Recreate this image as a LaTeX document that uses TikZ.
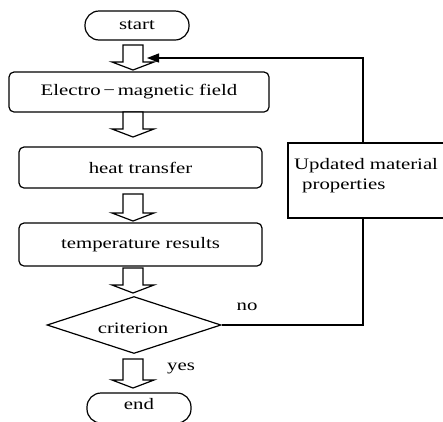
\documentclass[tikz,border=0pt]{standalone}
\usepackage{fontspec}
\setmainfont[FakeStretch=1.3]{Liberation Serif}
\newfontfamily\widefont[FakeStretch=1.3]{Liberation Serif}
\usetikzlibrary{shapes.geometric,arrows.meta,calc}
\begin{document}
\begin{tikzpicture}[x=1pt,y=-1pt,
  every node/.style={font=\fontsize{16}{20}\selectfont},
  term/.style={draw,line width=1.2pt,rounded corners=14pt,inner sep=0pt},
  procbox/.style={draw,line width=1.2pt,rounded corners=5pt,inner sep=0pt},
  decbox/.style={draw,line width=1.2pt,diamond,inner sep=0pt,minimum width=174pt,minimum height=57pt},
  fat/.style={draw,line width=1.2pt,fill=white},
  lbl/.style={inner sep=0pt}]
\useasboundingbox (0,0) rectangle (443,421);
\newcommand{\fatarrow}[2]{%
  \path let \p1=(#1), \p2=(#2) in
    [fat] (\x1-10pt,\y1) -- (\x1+10pt,\y1) -- (\x1+10pt,\y2+8pt) -- (\x1+21pt,\y2+8pt)
    -- (\x1,\y2) -- (\x1-21pt,\y2+8pt) -- (\x1-10pt,\y2+8pt) -- cycle;}
% nodes
\node[term,minimum width=104pt,minimum height=29pt] (start) at (137,25.5) {start};
\node[procbox,minimum width=260pt,minimum height=40pt] (em) at (139,92) {Electro\,−\,magnetic field};
\node[procbox,minimum width=243pt,minimum height=41pt] (heat) at (140.5,167.5) {heat transfer};
\node[procbox,minimum width=243pt,minimum height=43pt] (temp) at (140.5,244.5) {temperature results};
\node[decbox] (crit) at (134,325) {};
\node[lbl] (crittext) at (133,328) {criterion};
\node[term,minimum width=104pt,minimum height=30pt] (end) at (139,408) {};
\node[lbl] (endtext) at (139,404) {end};
\node[draw,line width=1.2pt,minimum width=160pt,minimum height=75pt,inner sep=0pt] (upd) at (368,180.5) {};
\node[lbl,align=left,anchor=north west,font=\fontsize{16}{20}\widefont] (updtext) at (294,158) {Updated material\\\hspace*{8pt}properties};
\node[lbl] (no) at (247,307) {no};
\node[lbl] (yes) at (181,368) {yes};
% coordinates for block arrows
\coordinate (a1t) at (133,45);  \coordinate (a1b) at (133,70);
\coordinate (a2t) at (133,112); \coordinate (a2b) at (133,137);
\coordinate (a3t) at (133,194); \coordinate (a3b) at (133,221);
\coordinate (a4t) at (133,268); \coordinate (a4b) at (133,293);
\coordinate (a5t) at (133,359); \coordinate (a5b) at (133,388);
\fatarrow{a1t}{a1b}
\fatarrow{a2t}{a2b}
\fatarrow{a3t}{a3b}
\fatarrow{a4t}{a4b}
\fatarrow{a5t}{a5b}
% feedback loop
\coordinate (fbx) at (363,0);
\coordinate (fbin) at (147,58);
\draw[line width=1.2pt] (crit.east) -| (upd.south -| fbx);
\draw[line width=1.2pt,-{Triangle[length=12pt,width=9pt]}] (upd.north -| fbx) |- (fbin);
\end{tikzpicture}
\end{document}
